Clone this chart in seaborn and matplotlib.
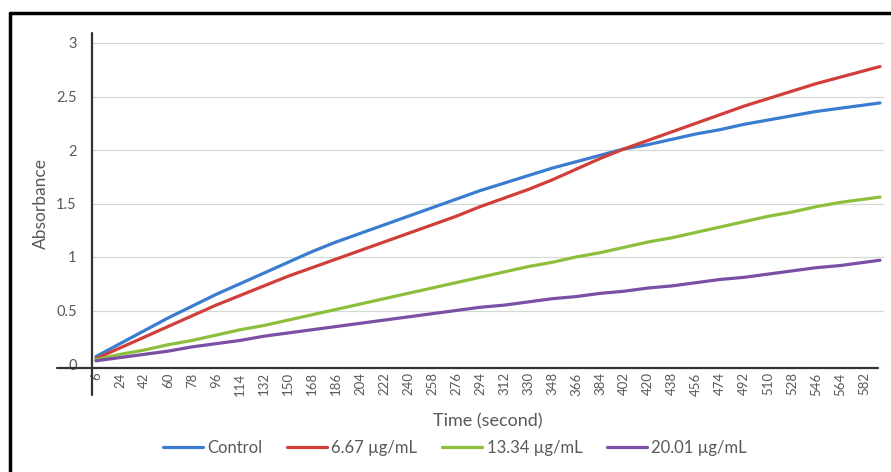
import pandas as pd
import matplotlib.pyplot as plt
import seaborn as sns
from matplotlib.lines import Line2D

# ── data (absorbance vs time) ──────────────────────────────────────────
time_s = [6, 24, 42, 60, 78, 96, 114, 132, 150, 168, 186, 204, 222, 240, 258, 276, 294,
          312, 330, 348, 366, 384, 402, 420, 438, 456, 474, 492, 510, 528, 546, 564, 582, 594]

control = [0.07, 0.19, 0.31, 0.43, 0.54, 0.65, 0.75, 0.85, 0.95, 1.05, 1.14, 1.22, 1.30,
           1.38, 1.46, 1.54, 1.62, 1.69, 1.76, 1.83, 1.89, 1.95, 2.01, 2.05, 2.10, 2.15,
           2.19, 2.24, 2.28, 2.32, 2.36, 2.39, 2.42, 2.44]
conc_667 = [0.05, 0.15, 0.25, 0.35, 0.45, 0.55, 0.64, 0.73, 0.82, 0.90, 0.98, 1.06, 1.14,
            1.22, 1.30, 1.38, 1.47, 1.55, 1.63, 1.72, 1.82, 1.92, 2.01, 2.09, 2.17, 2.25,
            2.33, 2.41, 2.48, 2.55, 2.62, 2.68, 2.74, 2.78]
conc_1334 = [0.04, 0.09, 0.13, 0.18, 0.22, 0.27, 0.32, 0.36, 0.41, 0.46, 0.51, 0.56, 0.61,
             0.66, 0.71, 0.76, 0.81, 0.86, 0.91, 0.95, 1.00, 1.04, 1.09, 1.14, 1.18, 1.23,
             1.28, 1.33, 1.38, 1.42, 1.47, 1.51, 1.54, 1.56]
conc_2001 = [0.03, 0.06, 0.09, 0.12, 0.16, 0.19, 0.22, 0.26, 0.29, 0.32, 0.35, 0.38, 0.41,
             0.44, 0.47, 0.50, 0.53, 0.55, 0.58, 0.61, 0.63, 0.66, 0.68, 0.71, 0.73, 0.76,
             0.79, 0.81, 0.84, 0.87, 0.90, 0.92, 0.95, 0.97]

series_names = ['Control', '6.67 \u00b5g/mL', '13.34 \u00b5g/mL', '20.01 \u00b5g/mL']
colors = ['#3a7cd0', '#d03f3a', '#8dbf3c', '#7a4fa5']
tick_times = list(range(6, 583, 18))
y_ticks = [0, 0.5, 1, 1.5, 2, 2.5, 3]
y_labels = ['0', '0.5', '1', '1.5', '2', '2.5', '3']

frames = []
for name, vals in zip(series_names, [control, conc_667, conc_1334, conc_2001]):
    frames.append(pd.DataFrame({'Time': time_s, 'Absorbance': vals, 'Series': name}))
df = pd.concat(frames, ignore_index=True)

sns.set_theme(style="white")
plt.rcParams['font.family'] = ['Lato', 'DejaVu Sans']
text_col = '#595959'

fig = plt.figure(figsize=(8.91, 4.72), dpi=100)
W, H = 891, 472
ax = fig.add_axes([92 / W, 1 - 364 / H, (884 - 92) / W, (364 - 43) / H])

sns.lineplot(data=df, x='Time', y='Absorbance', hue='Series', hue_order=series_names,
             palette=colors, linewidth=2.3, ax=ax, legend=False)

ax.set_xlim(3, 597)
ax.set_ylim(0, 3)
ax.set_xticks(tick_times)
ax.set_xticklabels([str(t) for t in tick_times], rotation=90, fontsize=9.5, color=text_col)
ax.set_yticks(y_ticks)
ax.set_yticklabels(y_labels, fontsize=10.5, color=text_col)
ax.tick_params(axis='both', length=0)
ax.tick_params(axis='x', pad=6)
ax.tick_params(axis='y', pad=11)
ax.yaxis.grid(True, color='#d3d9d3', linewidth=0.9)
ax.xaxis.grid(False)
for s in ax.spines.values():
    s.set_visible(False)

# axis lines as in the original (extending past the corner)
ax.add_line(Line2D([0, 0], [-0.097, 1.031], transform=ax.transAxes, color='#333333',
                   lw=1.6, clip_on=False))
ax.add_line(Line2D([-0.044, 0.993], [-0.013, -0.013], transform=ax.transAxes,
                   color='#333333', lw=1.6, clip_on=False))

ax.set_xlabel('Time (second)', fontsize=13, color=text_col, labelpad=13)
ax.set_ylabel('Absorbance', fontsize=12.5, color=text_col, labelpad=5)

handles = [Line2D([], [], color=c, lw=2.3) for c in colors]
fig.legend(handles, series_names, loc='center', bbox_to_anchor=(455 / W, 1 - 448 / H),
           ncol=4, frameon=False, fontsize=12, handlelength=2.4, handletextpad=0.25,
           columnspacing=1.5, labelcolor=text_col)

# outer black frame (top and left edges visible)
fig.add_artist(Line2D([10 / W, 1.0], [1 - 13 / H, 1 - 13 / H], transform=fig.transFigure,
                      color='black', lw=2.5))
fig.add_artist(Line2D([10 / W, 10 / W], [0, 1 - 13 / H], transform=fig.transFigure,
                      color='black', lw=2.5))

fig.savefig('out.png', dpi=100)
